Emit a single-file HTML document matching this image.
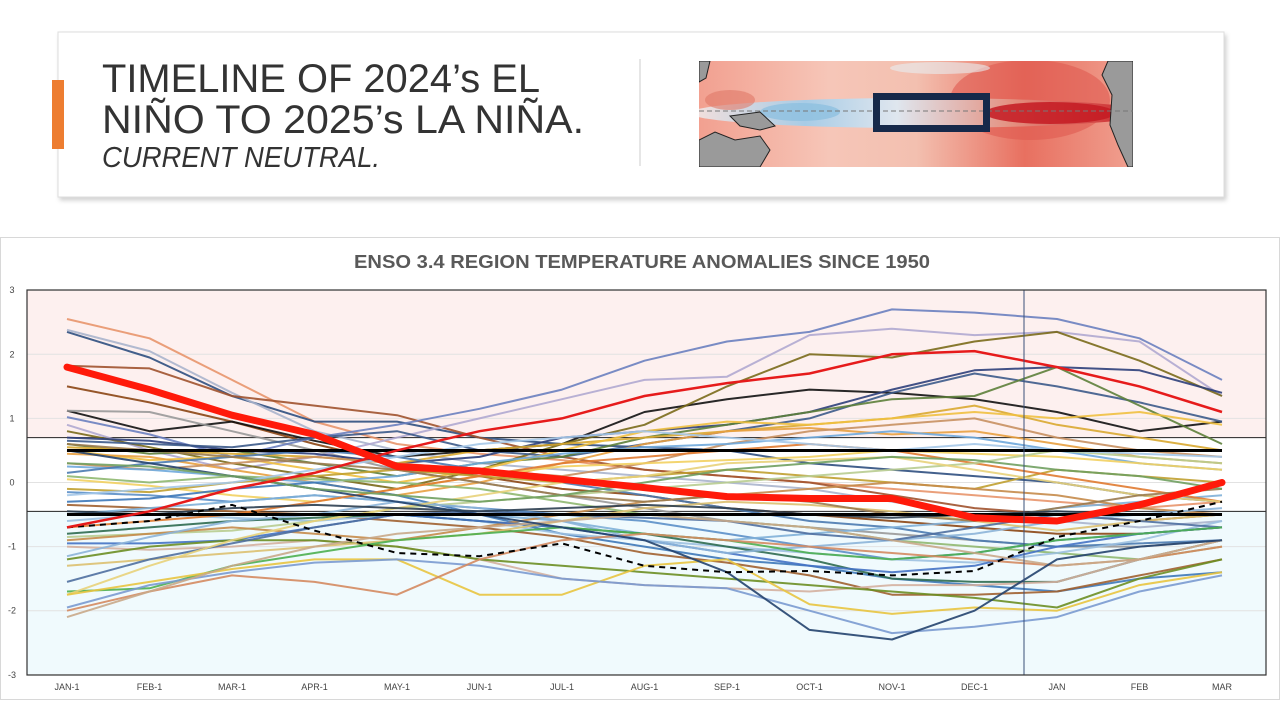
<!DOCTYPE html>
<html><head><meta charset="utf-8">
<style>
html,body{margin:0;padding:0;background:#fff;width:1280px;height:720px;overflow:hidden}
svg{display:block}
text{font-family:"Liberation Sans",sans-serif}
</style></head>
<body>
<svg id="root" width="1280" height="720" viewBox="0 0 1280 720" xmlns="http://www.w3.org/2000/svg">
<defs>
<filter id="sh" x="-5%" y="-5%" width="110%" height="120%"><feDropShadow dx="2" dy="3" stdDeviation="2" flood-color="#000" flood-opacity="0.18"/></filter>
<linearGradient id="mapg" x1="0" y1="0" x2="1" y2="0">
<stop offset="0" stop-color="#f2a090"/><stop offset="0.3" stop-color="#f6c6b8"/><stop offset="0.5" stop-color="#f3c0b0"/><stop offset="0.75" stop-color="#e87060"/><stop offset="1" stop-color="#f0a090"/>
</linearGradient>
<linearGradient id="tongue" x1="0" y1="0" x2="1" y2="0">
<stop offset="0" stop-color="#f6e0dc"/><stop offset="0.25" stop-color="#a8cce6"/><stop offset="0.45" stop-color="#dfe6ee"/><stop offset="0.7" stop-color="#e49080"/><stop offset="1" stop-color="#c81820"/>
</linearGradient>
<clipPath id="mapclip"><rect x="699" y="61" width="434" height="106"/></clipPath>
</defs>

<rect x="58" y="32" width="1166" height="165" fill="#fff" stroke="#ddd" stroke-width="1" filter="url(#sh)"/>
<rect x="52" y="80" width="12" height="69" fill="#ed7d31"/>
<text x="102" y="92" font-size="40" fill="#333" textLength="438" lengthAdjust="spacingAndGlyphs">TIMELINE OF 2024’s EL</text>
<text x="102" y="133" font-size="40" fill="#333" textLength="482" lengthAdjust="spacingAndGlyphs">NIÑO TO 2025’s LA NIÑA.</text>
<text x="102" y="167" font-size="29" font-style="italic" fill="#333" textLength="278" lengthAdjust="spacingAndGlyphs">CURRENT NEUTRAL.</text>
<line x1="640" y1="59" x2="640" y2="166" stroke="#ccc" stroke-width="1"/>

<g clip-path="url(#mapclip)">
<rect x="699" y="61" width="434" height="106" fill="url(#mapg)"/>
<ellipse cx="1030" cy="100" rx="80" ry="40" fill="#e05a50" opacity="0.6"/>
<ellipse cx="920" cy="113" rx="230" ry="15" fill="url(#tongue)"/>
<ellipse cx="800" cy="112" rx="40" ry="9" fill="#8fc0e0" opacity="0.8"/>
<ellipse cx="1050" cy="113" rx="65" ry="11" fill="#c41a22" opacity="0.85"/>
<ellipse cx="730" cy="100" rx="25" ry="10" fill="#e07868" opacity="0.6"/>
<ellipse cx="940" cy="68" rx="50" ry="6" fill="#e8eef2" opacity="0.6"/>
<polygon points="1108,61 1133,61 1133,167 1128,167 1118,145 1110,125 1112,95 1102,75" fill="#9a9a9a" stroke="#222" stroke-width="1"/>
<polygon points="699,140 715,132 735,140 760,136 770,150 760,167 699,167" fill="#9a9a9a" stroke="#222" stroke-width="1"/>
<polygon points="730,116 760,112 775,126 760,130 740,126" fill="#9a9a9a" stroke="#222" stroke-width="1"/>
<polygon points="699,61 710,61 706,78 699,82" fill="#9a9a9a" stroke="#222" stroke-width="1"/>
<line x1="699" y1="111" x2="1133" y2="111" stroke="#777" stroke-width="1" stroke-dasharray="5,3"/>
</g>
<rect x="876.5" y="96.5" width="110" height="32" fill="none" stroke="#16294a" stroke-width="7"/>

<rect x="0.5" y="237.5" width="1279" height="462" fill="#fff" stroke="#d8d8d8"/>
<text x="642" y="268" font-size="18" font-weight="bold" fill="#595959" text-anchor="middle" textLength="576" lengthAdjust="spacingAndGlyphs">ENSO 3.4 REGION TEMPERATURE ANOMALIES SINCE 1950</text>
<g id="plot"></g>
</svg>
<script>
const categories=["JAN-1","FEB-1","MAR-1","APR-1","MAY-1","JUN-1","JUL-1","AUG-1","SEP-1","OCT-1","NOV-1","DEC-1","JAN","FEB","MAR"];
const yTicks=[3,2,1,0,-1,-2,-3];
const elNinoThreshold=0.7;
const laNinaThreshold=-0.45;
const refLines=[0.5,-0.5];
const current=[1.8,1.45,1.05,0.75,0.25,0.18,0.05,-0.08,-0.22,-0.25,-0.25,-0.55,-0.6,-0.35,0.0];
const dashedYear=[-0.7,-0.6,-0.35,-0.75,-1.1,-1.15,-0.95,-1.3,-1.4,-1.38,-1.45,-1.38,-0.85,-0.6,-0.3];
const redYear=[-0.7,-0.45,-0.1,0.15,0.5,0.8,1.0,1.35,1.55,1.7,2.0,2.05,1.8,1.5,1.1];
const hist=[
[2.55,2.25,1.6,0.95,0.6,0.45,0.35,0.2,0.1,0.0,-0.1,-0.2,-0.3,-0.4,-0.3],
[2.35,1.95,1.35,0.95,0.95,0.7,0.6,0.55,0.5,0.3,0.2,0.1,0.0,-0.2,-0.3],
[2.38,2.05,1.4,0.8,0.5,0.3,0.2,0.1,0.0,-0.1,-0.3,-0.5,-0.6,-0.7,-0.6],
[1.82,1.78,1.35,1.2,1.05,0.7,0.4,0.2,0.1,0.0,-0.2,-0.4,-0.5,-0.6,-0.5],
[1.5,1.25,0.95,0.6,0.3,0.1,-0.1,-0.2,-0.4,-0.5,-0.6,-0.7,-0.8,-0.8,-0.7],
[1.12,0.8,0.95,0.65,0.4,0.5,0.6,1.1,1.3,1.45,1.4,1.3,1.1,0.8,0.95],
[1.12,1.1,0.8,0.5,0.2,0.0,-0.2,-0.4,-0.6,-0.7,-0.8,-0.9,-1.0,-1.0,-0.9],
[1.02,0.75,0.4,0.7,0.9,1.15,1.45,1.9,2.2,2.35,2.7,2.65,2.55,2.25,1.6],
[0.9,0.5,0.2,0.4,0.7,1.0,1.3,1.6,1.65,2.3,2.4,2.3,2.35,2.2,1.35],
[0.8,0.55,0.3,0.1,-0.1,0.2,0.6,0.9,1.5,2.0,1.95,2.2,2.35,1.9,1.35],
[0.7,0.65,0.5,0.45,0.3,0.4,0.7,0.8,0.9,1.1,1.45,1.75,1.8,1.75,1.4],
[0.65,0.6,0.55,0.7,0.8,0.5,0.4,0.6,0.8,1.0,1.4,1.7,1.5,1.25,0.95],
[0.6,0.45,0.5,0.3,0.1,0.3,0.4,0.7,0.9,1.1,1.3,1.35,1.8,1.2,0.6],
[0.55,0.5,0.45,0.4,0.3,0.5,0.6,0.7,0.8,0.9,1.0,1.2,0.9,0.7,0.5],
[0.5,0.35,0.4,0.2,0.0,0.2,0.5,0.8,0.95,0.9,1.0,1.1,1.0,1.1,0.9],
[0.45,0.4,0.2,0.0,-0.2,0.0,0.3,0.6,0.8,0.85,0.75,0.8,0.6,0.4,0.3],
[0.3,0.2,0.3,0.4,0.3,0.2,0.1,0.3,0.6,0.8,0.9,1.0,0.7,0.5,0.4],
[0.25,0.2,0.1,0.0,0.1,0.3,0.45,0.55,0.6,0.7,0.8,0.7,0.5,0.3,0.2],
[0.15,0.3,0.4,0.5,0.4,0.2,0.0,-0.2,-0.4,-0.6,-0.7,-0.9,-1.0,-0.95,-0.9],
[0.1,0.0,0.1,0.05,0.0,-0.1,-0.3,-0.5,-0.6,-0.7,-0.9,-1.0,-1.1,-1.2,-1.0],
[0.05,-0.05,-0.2,-0.3,-0.1,0.1,0.25,0.3,0.35,0.4,0.5,0.45,0.4,0.3,0.2],
[-0.1,-0.15,0.0,0.1,0.2,0.1,0.0,0.1,0.2,0.1,0.0,-0.1,0.2,0.1,0.0],
[-0.15,-0.2,-0.3,-0.2,-0.3,-0.4,-0.5,-0.6,-0.8,-1.0,-1.2,-1.1,-0.9,-0.8,-0.7],
[-0.3,-0.25,-0.1,0.0,-0.2,-0.5,-0.8,-1.0,-1.2,-1.3,-1.5,-1.6,-1.7,-1.5,-1.4],
[-0.35,-0.4,-0.45,-0.5,-0.6,-0.7,-0.85,-1.1,-1.25,-1.45,-1.75,-1.75,-1.7,-1.45,-1.2],
[-0.5,-0.4,-0.3,-0.2,-0.3,-0.5,-0.6,-0.8,-0.9,-0.8,-0.7,-0.6,-0.4,-0.3,-0.2],
[-0.6,-0.5,-0.55,-0.6,-0.5,-0.6,-0.8,-0.9,-1.0,-1.1,-1.2,-1.25,-1.1,-0.9,-0.6],
[-0.7,-0.6,-0.5,-0.3,-0.1,0.1,0.3,0.4,0.5,0.6,0.5,0.3,0.1,-0.1,-0.3],
[-0.8,-0.7,-0.6,-0.55,-0.5,-0.6,-0.7,-0.8,-1.0,-1.2,-1.5,-1.55,-1.55,-1.2,-0.9],
[-0.85,-0.8,-0.75,-0.6,-0.4,-0.3,-0.2,-0.1,0.0,0.1,0.2,0.3,0.5,0.4,0.3],
[-0.9,-0.8,-0.7,-0.8,-0.9,-0.7,-0.5,-0.3,-0.2,-0.1,0.0,-0.1,-0.2,-0.4,-0.5],
[-0.95,-0.95,-0.9,-0.7,-0.5,-0.6,-0.7,-0.9,-1.1,-1.3,-1.4,-1.3,-1.0,-0.8,-0.7],
[-1.0,-1.05,-1.0,-0.9,-1.0,-1.2,-1.5,-1.6,-1.65,-1.7,-1.6,-1.6,-1.55,-1.2,-0.9],
[-1.15,-0.85,-0.6,-0.5,-0.3,-0.4,-0.6,-0.9,-1.1,-1.0,-0.9,-0.8,-0.6,-0.5,-0.4],
[-1.2,-1.0,-0.9,-0.9,-1.0,-1.2,-1.3,-1.4,-1.5,-1.6,-1.7,-1.8,-1.95,-1.5,-1.2],
[-1.3,-1.2,-1.1,-1.0,-0.9,-0.8,-0.6,-0.4,-0.3,-0.35,-0.45,-0.6,-0.75,-0.6,-0.5],
[-1.55,-1.2,-0.95,-0.7,-0.5,-0.45,-0.5,-0.55,-0.6,-0.8,-0.9,-0.7,-0.5,-0.6,-0.7],
[-1.7,-1.65,-1.3,-1.1,-0.9,-0.8,-0.7,-0.8,-0.9,-1.1,-1.2,-1.1,-0.9,-0.8,-0.7],
[-1.75,-1.3,-0.9,-0.6,-0.4,-0.2,0.0,0.1,0.3,0.35,0.4,0.2,0.0,-0.2,-0.3],
[-1.75,-1.55,-1.35,-1.2,-1.2,-1.75,-1.75,-1.3,-1.2,-1.9,-2.05,-1.95,-2.0,-1.6,-1.4],
[-1.95,-1.6,-1.4,-1.25,-1.2,-1.3,-1.5,-1.6,-1.65,-2.0,-2.35,-2.25,-2.1,-1.7,-1.45],
[-2.0,-1.7,-1.45,-1.55,-1.75,-1.2,-0.9,-0.8,-0.9,-1.0,-1.1,-1.2,-1.3,-1.2,-1.0],
[-2.1,-1.7,-1.3,-1.0,-0.8,-0.7,-0.6,-0.5,-0.6,-0.7,-0.9,-1.1,-1.3,-1.2,-0.9],
[0.5,0.3,0.1,-0.1,-0.3,-0.5,-0.7,-0.9,-1.4,-2.3,-2.45,-2.0,-1.2,-1.0,-0.9],
[-0.2,-0.1,0.0,0.2,0.4,0.6,0.7,0.8,0.7,0.6,0.5,0.6,0.5,0.45,0.4],
[0.6,0.5,0.4,0.3,0.2,0.0,-0.2,-0.3,-0.2,-0.3,-0.5,-0.6,-0.4,-0.2,-0.1],
[-0.45,-0.5,-0.4,-0.35,-0.4,-0.45,-0.4,-0.35,-0.4,-0.5,-0.55,-0.5,-0.45,-0.5,-0.5],
[0.3,0.25,0.1,-0.1,-0.2,-0.3,-0.2,0.0,0.2,0.3,0.4,0.35,0.2,0.1,-0.1]
];
const palette=["#e8956b","#2f4f7f","#aab4cc","#a0522d","#8b4513","#111111","#999999","#6a7fbf","#b0a8d0","#7a6a1a","#2e3f7a","#3c5a8a","#5d7f3a","#d9a830","#f0c040","#e8a040","#c89060","#6fa8dc","#4a7ab0","#8fb870","#f2d060","#c0a030","#5b8fc8","#3d78b8","#a06030","#7fb0d8","#9cc0e0","#e07a30","#2d6a4f","#b8cc90","#c58b4a","#4472c4","#d4b0a0","#8cb4d8","#6b8e23","#dcc070","#4f6fa0","#4caf50","#e8d27a","#e8c440","#7a9ad0","#d48a60","#c9a98a","#23436e","#a5c8e8","#9a7b4f","#2c3e50","#70a060"];
const X0=67,DX=82.5,Y0=482.5,DY=64.1,PL=27,PR=1266,PT=290,PB=675;
const xS=i=>X0+i*DX;
const yS=v=>Y0-v*DY;
const NS="http://www.w3.org/2000/svg";
const plot=document.getElementById('plot');
function mk(tag,attrs){const e=document.createElementNS(NS,tag);for(const k in attrs)e.setAttribute(k,attrs[k]);plot.appendChild(e);return e;}
function pts(arr){return arr.map((v,i)=>xS(i).toFixed(1)+","+yS(v).toFixed(1)).join(" ");}

let e=mk('rect',{x:PL,y:PT,width:PR-PL,height:yS(elNinoThreshold)-PT,fill:'#fdf0ef'});


e=mk('rect',{x:PL,y:yS(laNinaThreshold),width:PR-PL,height:PB-yS(laNinaThreshold),fill:'#f0fafd'});


yTicks.forEach(t=>{
  const g=mk('line',{x1:PL,x2:PR,y1:yS(t),y2:yS(t),stroke:'#e2e2e2','stroke-width':1});
  
  
  const l=mk('text',{x:12,y:yS(t)+3,'font-size':9,fill:'#444','text-anchor':'middle'});
  l.textContent=t;
  
  
});
e=mk('line',{x1:PL,x2:PR,y1:yS(elNinoThreshold),y2:yS(elNinoThreshold),stroke:'#222','stroke-width':1});


e=mk('line',{x1:PL,x2:PR,y1:yS(laNinaThreshold),y2:yS(laNinaThreshold),stroke:'#222','stroke-width':1});


hist.forEach((s,i)=>{
  const p=mk('polyline',{points:pts(s),fill:'none',stroke:palette[i%palette.length],'stroke-width':2,'stroke-linejoin':'round',opacity:0.9});
  
  
});
refLines.forEach(v=>{
  const r=mk('line',{x1:xS(0),x2:xS(14),y1:yS(v),y2:yS(v),stroke:'#000','stroke-width':3});
  
  
});
e=mk('polyline',{points:pts(dashedYear),fill:'none',stroke:'#000','stroke-width':2,'stroke-dasharray':'6,5'});


e=mk('polyline',{points:pts(redYear),fill:'none',stroke:'#e61b1b','stroke-width':2.5});


e=mk('polyline',{points:pts(current),fill:'none',stroke:'#ff1a0a','stroke-width':7,'stroke-linejoin':'round','stroke-linecap':'round'});


e=mk('line',{x1:1024,x2:1024,y1:PT,y2:PB,stroke:'#3a5078','stroke-width':1});


e=mk('rect',{x:PL,y:PT,width:PR-PL,height:PB-PT,fill:'none',stroke:'#333','stroke-width':1.2});


categories.forEach((c,i)=>{
  const t=mk('text',{x:xS(i),y:690,'font-size':9,fill:'#444','text-anchor':'middle'});
  t.textContent=c;
  
  
});
</script>
</body></html>
